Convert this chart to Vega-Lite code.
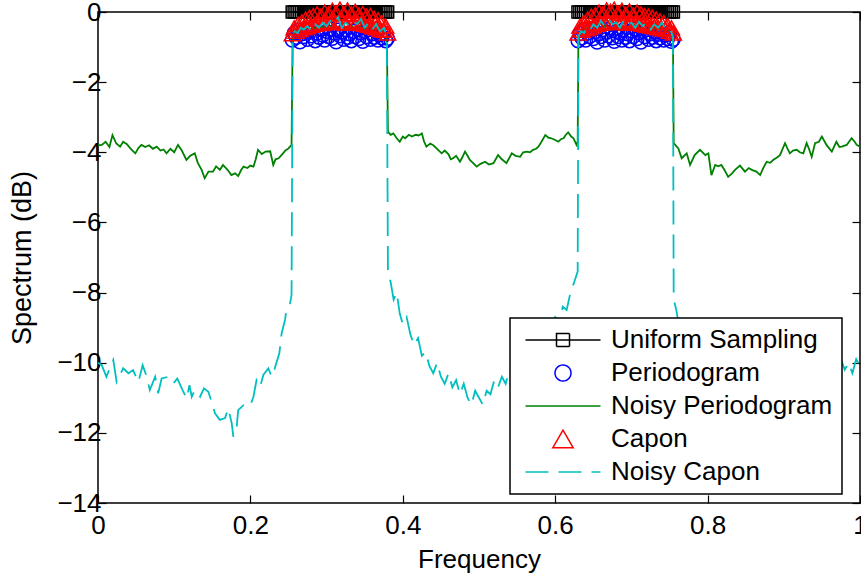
{
  "$schema": "https://vega.github.io/schema/vega-lite/v6.json",
  "width": 762,
  "height": 491,
  "autosize": {"type": "none"},
  "padding": {"left": 98, "top": 12, "right": 1, "bottom": 76},
  "background": "white",
  "config": {
    "view": {"stroke": "black", "strokeWidth": 1.5},
    "font": "Liberation Sans",
    "axis": {
      "labelFont": "Liberation Sans", "titleFont": "Liberation Sans",
      "labelFontSize": 26, "titleFontSize": 26, "titleFontWeight": "normal",
      "labelColor": "black", "titleColor": "black",
      "domain": false, "grid": false,
      "tickColor": "black", "tickSize": -8, "tickWidth": 1.2,
      "labelFlush": false, "labelOverlap": false, "labelBound": false
    }
  },
  "datasets": {
    "uniform": [
      {"f":0.255,"v":0,"b":1},{"f":0.2575,"v":0,"b":1},{"f":0.26,"v":0,"b":1},{"f":0.2625,"v":0,"b":1},{"f":0.265,"v":0,"b":1},{"f":0.2675,"v":0,"b":1},{"f":0.27,"v":0,"b":1},{"f":0.2725,"v":0,"b":1},{"f":0.275,"v":0,"b":1},{"f":0.2775,"v":0,"b":1},{"f":0.28,"v":0,"b":1},{"f":0.2825,"v":0,"b":1},{"f":0.285,"v":0,"b":1},{"f":0.2875,"v":0,"b":1},{"f":0.29,"v":0,"b":1},{"f":0.2925,"v":0,"b":1},{"f":0.295,"v":0,"b":1},{"f":0.2975,"v":0,"b":1},{"f":0.3,"v":0,"b":1},{"f":0.3025,"v":0,"b":1},{"f":0.305,"v":0,"b":1},{"f":0.3075,"v":0,"b":1},{"f":0.31,"v":0,"b":1},{"f":0.3125,"v":0,"b":1},{"f":0.315,"v":0,"b":1},{"f":0.3175,"v":0,"b":1},{"f":0.32,"v":0,"b":1},{"f":0.3225,"v":0,"b":1},{"f":0.325,"v":0,"b":1},{"f":0.3275,"v":0,"b":1},{"f":0.33,"v":0,"b":1},{"f":0.3325,"v":0,"b":1},{"f":0.335,"v":0,"b":1},{"f":0.3375,"v":0,"b":1},{"f":0.34,"v":0,"b":1},{"f":0.3425,"v":0,"b":1},{"f":0.345,"v":0,"b":1},{"f":0.3475,"v":0,"b":1},{"f":0.35,"v":0,"b":1},{"f":0.3525,"v":0,"b":1},{"f":0.355,"v":0,"b":1},{"f":0.3575,"v":0,"b":1},{"f":0.36,"v":0,"b":1},{"f":0.3625,"v":0,"b":1},{"f":0.365,"v":0,"b":1},{"f":0.3675,"v":0,"b":1},{"f":0.37,"v":0,"b":1},{"f":0.3725,"v":0,"b":1},{"f":0.375,"v":0,"b":1},{"f":0.3775,"v":0,"b":1},{"f":0.38,"v":0,"b":1},
      {"f":0.63,"v":0,"b":2},{"f":0.6325,"v":0,"b":2},{"f":0.635,"v":0,"b":2},{"f":0.6375,"v":0,"b":2},{"f":0.64,"v":0,"b":2},{"f":0.6425,"v":0,"b":2},{"f":0.645,"v":0,"b":2},{"f":0.6475,"v":0,"b":2},{"f":0.65,"v":0,"b":2},{"f":0.6525,"v":0,"b":2},{"f":0.655,"v":0,"b":2},{"f":0.6575,"v":0,"b":2},{"f":0.66,"v":0,"b":2},{"f":0.6625,"v":0,"b":2},{"f":0.665,"v":0,"b":2},{"f":0.6675,"v":0,"b":2},{"f":0.67,"v":0,"b":2},{"f":0.6725,"v":0,"b":2},{"f":0.675,"v":0,"b":2},{"f":0.6775,"v":0,"b":2},{"f":0.68,"v":0,"b":2},{"f":0.6825,"v":0,"b":2},{"f":0.685,"v":0,"b":2},{"f":0.6875,"v":0,"b":2},{"f":0.69,"v":0,"b":2},{"f":0.6925,"v":0,"b":2},{"f":0.695,"v":0,"b":2},{"f":0.6975,"v":0,"b":2},{"f":0.7,"v":0,"b":2},{"f":0.7025,"v":0,"b":2},{"f":0.705,"v":0,"b":2},{"f":0.7075,"v":0,"b":2},{"f":0.71,"v":0,"b":2},{"f":0.7125,"v":0,"b":2},{"f":0.715,"v":0,"b":2},{"f":0.7175,"v":0,"b":2},{"f":0.72,"v":0,"b":2},{"f":0.7225,"v":0,"b":2},{"f":0.725,"v":0,"b":2},{"f":0.7275,"v":0,"b":2},{"f":0.73,"v":0,"b":2},{"f":0.7325,"v":0,"b":2},{"f":0.735,"v":0,"b":2},{"f":0.7375,"v":0,"b":2},{"f":0.74,"v":0,"b":2},{"f":0.7425,"v":0,"b":2},{"f":0.745,"v":0,"b":2},{"f":0.7475,"v":0,"b":2},{"f":0.75,"v":0,"b":2},{"f":0.7525,"v":0,"b":2},{"f":0.755,"v":0,"b":2}
    ],
    "periodogram": [
      {"f":0.255,"v":-0.8},{"f":0.2575,"v":-0.6},{"f":0.26,"v":-0.72},{"f":0.2625,"v":-0.52},{"f":0.265,"v":-0.85},{"f":0.2675,"v":-0.62},{"f":0.27,"v":-0.7},{"f":0.2725,"v":-0.5},{"f":0.275,"v":-0.78},{"f":0.2775,"v":-0.58},{"f":0.28,"v":-0.68},{"f":0.2825,"v":-0.45},{"f":0.285,"v":-0.82},{"f":0.2875,"v":-0.6},{"f":0.29,"v":-0.72},{"f":0.2925,"v":-0.5},{"f":0.295,"v":-0.66},{"f":0.2975,"v":-0.8},{"f":0.3,"v":-0.55},{"f":0.3025,"v":-0.7},{"f":0.305,"v":-0.48},{"f":0.3075,"v":-0.75},{"f":0.31,"v":-0.6},{"f":0.3125,"v":-0.85},{"f":0.315,"v":-0.52},{"f":0.3175,"v":-0.68},{"f":0.32,"v":-0.58},{"f":0.3225,"v":-0.78},{"f":0.325,"v":-0.5},{"f":0.3275,"v":-0.72},{"f":0.33,"v":-0.62},{"f":0.3325,"v":-0.82},{"f":0.335,"v":-0.55},{"f":0.3375,"v":-0.7},{"f":0.34,"v":-0.48},{"f":0.3425,"v":-0.76},{"f":0.345,"v":-0.6},{"f":0.3475,"v":-0.84},{"f":0.35,"v":-0.55},{"f":0.3525,"v":-0.7},{"f":0.355,"v":-0.5},{"f":0.3575,"v":-0.78},{"f":0.36,"v":-0.62},{"f":0.3625,"v":-0.72},{"f":0.365,"v":-0.56},{"f":0.3675,"v":-0.8},{"f":0.37,"v":-0.65},{"f":0.3725,"v":-0.74},{"f":0.375,"v":-0.6},{"f":0.3775,"v":-0.82},{"f":0.38,"v":-0.75},
      {"f":0.63,"v":-0.82},{"f":0.6325,"v":-0.62},{"f":0.635,"v":-0.74},{"f":0.6375,"v":-0.5},{"f":0.64,"v":-0.8},{"f":0.6425,"v":-0.6},{"f":0.645,"v":-0.7},{"f":0.6475,"v":-0.48},{"f":0.65,"v":-0.76},{"f":0.6525,"v":-0.56},{"f":0.655,"v":-0.86},{"f":0.6575,"v":-0.62},{"f":0.66,"v":-0.7},{"f":0.6625,"v":-0.5},{"f":0.665,"v":-0.8},{"f":0.6675,"v":-0.58},{"f":0.67,"v":-0.68},{"f":0.6725,"v":-0.46},{"f":0.675,"v":-0.74},{"f":0.6775,"v":-0.84},{"f":0.68,"v":-0.55},{"f":0.6825,"v":-0.7},{"f":0.685,"v":-0.6},{"f":0.6875,"v":-0.8},{"f":0.69,"v":-0.5},{"f":0.6925,"v":-0.72},{"f":0.695,"v":-0.62},{"f":0.6975,"v":-0.82},{"f":0.7,"v":-0.54},{"f":0.7025,"v":-0.7},{"f":0.705,"v":-0.48},{"f":0.7075,"v":-0.76},{"f":0.71,"v":-0.6},{"f":0.7125,"v":-0.86},{"f":0.715,"v":-0.55},{"f":0.7175,"v":-0.7},{"f":0.72,"v":-0.5},{"f":0.7225,"v":-0.78},{"f":0.725,"v":-0.62},{"f":0.7275,"v":-0.72},{"f":0.73,"v":-0.56},{"f":0.7325,"v":-0.82},{"f":0.735,"v":-0.64},{"f":0.7375,"v":-0.74},{"f":0.74,"v":-0.58},{"f":0.7425,"v":-0.8},{"f":0.745,"v":-0.66},{"f":0.7475,"v":-0.76},{"f":0.75,"v":-0.62},{"f":0.7525,"v":-0.84},{"f":0.755,"v":-0.78}
    ],
    "capon": [
      {"f":0.255,"v":-0.62},{"f":0.2575,"v":-0.45},{"f":0.26,"v":-0.55},{"f":0.2625,"v":-0.35},{"f":0.265,"v":-0.5},{"f":0.2675,"v":-0.28},{"f":0.27,"v":-0.45},{"f":0.2725,"v":-0.2},{"f":0.275,"v":-0.42},{"f":0.2775,"v":-0.15},{"f":0.28,"v":-0.38},{"f":0.2825,"v":-0.1},{"f":0.285,"v":-0.35},{"f":0.2875,"v":-0.05},{"f":0.29,"v":-0.3},{"f":0.2925,"v":-0.12},{"f":0.295,"v":-0.33},{"f":0.2975,"v":0.0},{"f":0.3,"v":-0.28},{"f":0.3025,"v":-0.06},{"f":0.305,"v":-0.3},{"f":0.3075,"v":0.05},{"f":0.31,"v":-0.25},{"f":0.3125,"v":-0.02},{"f":0.315,"v":-0.3},{"f":0.3175,"v":0.08},{"f":0.32,"v":-0.22},{"f":0.3225,"v":-0.04},{"f":0.325,"v":-0.32},{"f":0.3275,"v":0.06},{"f":0.33,"v":-0.25},{"f":0.3325,"v":-0.05},{"f":0.335,"v":-0.3},{"f":0.3375,"v":0.02},{"f":0.34,"v":-0.28},{"f":0.3425,"v":-0.08},{"f":0.345,"v":-0.33},{"f":0.3475,"v":-0.04},{"f":0.35,"v":-0.35},{"f":0.3525,"v":-0.12},{"f":0.355,"v":-0.38},{"f":0.3575,"v":-0.1},{"f":0.36,"v":-0.42},{"f":0.3625,"v":-0.18},{"f":0.365,"v":-0.45},{"f":0.3675,"v":-0.22},{"f":0.37,"v":-0.5},{"f":0.3725,"v":-0.3},{"f":0.375,"v":-0.52},{"f":0.3775,"v":-0.4},{"f":0.38,"v":-0.6},
      {"f":0.63,"v":-0.6},{"f":0.6325,"v":-0.4},{"f":0.635,"v":-0.52},{"f":0.6375,"v":-0.3},{"f":0.64,"v":-0.48},{"f":0.6425,"v":-0.2},{"f":0.645,"v":-0.45},{"f":0.6475,"v":-0.12},{"f":0.65,"v":-0.4},{"f":0.6525,"v":-0.08},{"f":0.655,"v":-0.35},{"f":0.6575,"v":0.0},{"f":0.66,"v":-0.32},{"f":0.6625,"v":-0.05},{"f":0.665,"v":-0.3},{"f":0.6675,"v":0.06},{"f":0.67,"v":-0.28},{"f":0.6725,"v":0.02},{"f":0.675,"v":-0.3},{"f":0.6775,"v":0.08},{"f":0.68,"v":-0.25},{"f":0.6825,"v":-0.03},{"f":0.685,"v":-0.3},{"f":0.6875,"v":0.05},{"f":0.69,"v":-0.22},{"f":0.6925,"v":-0.06},{"f":0.695,"v":-0.32},{"f":0.6975,"v":0.03},{"f":0.7,"v":-0.28},{"f":0.7025,"v":-0.08},{"f":0.705,"v":-0.3},{"f":0.7075,"v":0.0},{"f":0.71,"v":-0.33},{"f":0.7125,"v":-0.05},{"f":0.715,"v":-0.35},{"f":0.7175,"v":-0.1},{"f":0.72,"v":-0.38},{"f":0.7225,"v":-0.12},{"f":0.725,"v":-0.4},{"f":0.7275,"v":-0.15},{"f":0.73,"v":-0.42},{"f":0.7325,"v":-0.2},{"f":0.735,"v":-0.45},{"f":0.7375,"v":-0.25},{"f":0.74,"v":-0.48},{"f":0.7425,"v":-0.3},{"f":0.745,"v":-0.5},{"f":0.7475,"v":-0.38},{"f":0.75,"v":-0.55},{"f":0.7525,"v":-0.45},{"f":0.755,"v":-0.6}
    ],
    "noisyPer": [
      {"f":0.0,"v":-3.8},{"f":0.005,"v":-3.79},{"f":0.01,"v":-3.7},{"f":0.015,"v":-3.85},{"f":0.019,"v":-3.51},{"f":0.024,"v":-3.75},{"f":0.029,"v":-3.84},{"f":0.033,"v":-3.7},{"f":0.038,"v":-3.77},{"f":0.043,"v":-3.9},{"f":0.049,"v":-4.03},{"f":0.053,"v":-3.88},{"f":0.057,"v":-3.79},{"f":0.062,"v":-3.85},{"f":0.067,"v":-3.8},{"f":0.072,"v":-3.9},{"f":0.077,"v":-3.84},{"f":0.082,"v":-3.95},{"f":0.086,"v":-3.92},{"f":0.09,"v":-4.03},{"f":0.095,"v":-3.9},{"f":0.1,"v":-4.0},{"f":0.105,"v":-3.79},{"f":0.11,"v":-3.95},{"f":0.116,"v":-4.22},{"f":0.121,"v":-4.1},{"f":0.127,"v":-4.03},{"f":0.131,"v":-4.3},{"f":0.136,"v":-4.5},{"f":0.14,"v":-4.74},{"f":0.145,"v":-4.55},{"f":0.151,"v":-4.55},{"f":0.155,"v":-4.4},{"f":0.16,"v":-4.5},{"f":0.164,"v":-4.36},{"f":0.17,"v":-4.5},{"f":0.175,"v":-4.65},{"f":0.18,"v":-4.6},{"f":0.184,"v":-4.68},{"f":0.188,"v":-4.5},{"f":0.191,"v":-4.41},{"f":0.196,"v":-4.45},{"f":0.2,"v":-4.38},{"f":0.204,"v":-4.41},{"f":0.207,"v":-4.2},{"f":0.21,"v":-3.93},{"f":0.215,"v":-4.05},{"f":0.22,"v":-3.98},{"f":0.226,"v":-3.97},{"f":0.23,"v":-4.36},{"f":0.233,"v":-4.2},{"f":0.237,"v":-4.17},{"f":0.242,"v":-4.05},{"f":0.246,"v":-3.95},{"f":0.25,"v":-3.89},{"f":0.254,"v":-3.79},
      {"f":0.2555,"v":-0.65},{"f":0.26,"v":-0.5},{"f":0.266,"v":-0.55},{"f":0.272,"v":-0.4},{"f":0.278,"v":-0.5},{"f":0.284,"v":-0.45},{"f":0.29,"v":-0.55},{"f":0.296,"v":-0.4},{"f":0.302,"v":-0.5},{"f":0.308,"v":-0.35},{"f":0.314,"v":-0.45},{"f":0.32,"v":-0.4},{"f":0.326,"v":-0.5},{"f":0.332,"v":-0.38},{"f":0.338,"v":-0.48},{"f":0.344,"v":-0.4},{"f":0.35,"v":-0.52},{"f":0.356,"v":-0.42},{"f":0.362,"v":-0.5},{"f":0.368,"v":-0.45},{"f":0.374,"v":-0.55},{"f":0.379,"v":-0.62},
      {"f":0.3805,"v":-3.41},{"f":0.384,"v":-3.5},{"f":0.3876,"v":-3.46},{"f":0.392,"v":-3.6},{"f":0.396,"v":-3.7},{"f":0.4,"v":-3.55},{"f":0.403,"v":-3.6},{"f":0.408,"v":-3.5},{"f":0.412,"v":-3.55},{"f":0.417,"v":-3.5},{"f":0.421,"v":-3.52},{"f":0.425,"v":-3.46},{"f":0.428,"v":-3.7},{"f":0.431,"v":-3.84},{"f":0.436,"v":-3.75},{"f":0.44,"v":-3.8},{"f":0.445,"v":-3.9},{"f":0.451,"v":-4.03},{"f":0.455,"v":-3.95},{"f":0.46,"v":-4.06},{"f":0.463,"v":-4.2},{"f":0.466,"v":-4.17},{"f":0.47,"v":-4.1},{"f":0.475,"v":-4.27},{"f":0.478,"v":-4.15},{"f":0.4816,"v":-3.98},{"f":0.485,"v":-4.1},{"f":0.488,"v":-4.22},{"f":0.492,"v":-4.3},{"f":0.497,"v":-4.41},{"f":0.502,"v":-4.33},{"f":0.508,"v":-4.27},{"f":0.513,"v":-4.35},{"f":0.519,"v":-4.31},{"f":0.525,"v":-4.08},{"f":0.53,"v":-4.2},{"f":0.536,"v":-4.31},{"f":0.543,"v":-4.03},{"f":0.548,"v":-4.1},{"f":0.554,"v":-4.13},{"f":0.558,"v":-4.0},{"f":0.563,"v":-3.98},{"f":0.567,"v":-4.0},{"f":0.571,"v":-3.93},{"f":0.575,"v":-3.9},{"f":0.578,"v":-3.84},{"f":0.582,"v":-3.7},{"f":0.587,"v":-3.51},{"f":0.591,"v":-3.58},{"f":0.595,"v":-3.6},{"f":0.6,"v":-3.65},{"f":0.604,"v":-3.7},{"f":0.608,"v":-3.62},{"f":0.611,"v":-3.6},{"f":0.614,"v":-3.5},{"f":0.617,"v":-3.43},{"f":0.621,"v":-3.55},{"f":0.624,"v":-3.6},{"f":0.628,"v":-3.79},{"f":0.6295,"v":-3.7},
      {"f":0.6305,"v":-0.62},{"f":0.636,"v":-0.5},{"f":0.642,"v":-0.45},{"f":0.648,"v":-0.55},{"f":0.654,"v":-0.4},{"f":0.66,"v":-0.48},{"f":0.666,"v":-0.38},{"f":0.672,"v":-0.5},{"f":0.678,"v":-0.42},{"f":0.684,"v":-0.52},{"f":0.69,"v":-0.4},{"f":0.696,"v":-0.48},{"f":0.702,"v":-0.36},{"f":0.708,"v":-0.5},{"f":0.714,"v":-0.44},{"f":0.72,"v":-0.55},{"f":0.726,"v":-0.42},{"f":0.732,"v":-0.5},{"f":0.738,"v":-0.45},{"f":0.744,"v":-0.55},{"f":0.75,"v":-0.5},{"f":0.7545,"v":-0.62},
      {"f":0.7555,"v":-3.74},{"f":0.7616,"v":-3.89},{"f":0.766,"v":-4.17},{"f":0.7726,"v":-4.03},{"f":0.777,"v":-4.36},{"f":0.783,"v":-4.08},{"f":0.79,"v":-3.93},{"f":0.797,"v":-4.08},{"f":0.801,"v":-4.03},{"f":0.805,"v":-4.65},{"f":0.81,"v":-4.36},{"f":0.814,"v":-4.4},{"f":0.818,"v":-4.36},{"f":0.822,"v":-4.5},{"f":0.827,"v":-4.7},{"f":0.832,"v":-4.6},{"f":0.836,"v":-4.5},{"f":0.8425,"v":-4.38},{"f":0.849,"v":-4.55},{"f":0.854,"v":-4.45},{"f":0.858,"v":-4.5},{"f":0.864,"v":-4.55},{"f":0.869,"v":-4.65},{"f":0.873,"v":-4.45},{"f":0.8775,"v":-4.27},{"f":0.882,"v":-4.3},{"f":0.886,"v":-4.22},{"f":0.891,"v":-4.15},{"f":0.895,"v":-4.08},{"f":0.9016,"v":-3.74},{"f":0.905,"v":-3.9},{"f":0.908,"v":-4.03},{"f":0.912,"v":-3.95},{"f":0.917,"v":-3.93},{"f":0.921,"v":-4.0},{"f":0.9256,"v":-4.03},{"f":0.93,"v":-3.74},{"f":0.933,"v":-3.9},{"f":0.9366,"v":-4.13},{"f":0.941,"v":-3.74},{"f":0.946,"v":-3.7},{"f":0.95,"v":-3.55},{"f":0.956,"v":-3.79},{"f":0.963,"v":-3.98},{"f":0.969,"v":-3.7},{"f":0.973,"v":-3.85},{"f":0.976,"v":-3.84},{"f":0.9825,"v":-3.79},{"f":0.989,"v":-3.6},{"f":0.993,"v":-3.7},{"f":0.9956,"v":-3.79},{"f":1.0,"v":-3.84}
    ],
    "noisyCapon": [
      {"f":0.0,"v":-10.0},{"f":0.005,"v":-10.07},{"f":0.011,"v":-10.4},{"f":0.02,"v":-9.92},{"f":0.0245,"v":-10.55},{"f":0.033,"v":-10.16},{"f":0.04,"v":-10.3},{"f":0.046,"v":-10.21},{"f":0.053,"v":-10.55},{"f":0.0586,"v":-10.07},{"f":0.064,"v":-10.4},{"f":0.068,"v":-10.78},{"f":0.075,"v":-10.4},{"f":0.079,"v":-10.87},{"f":0.0835,"v":-10.45},{"f":0.0923,"v":-10.4},{"f":0.099,"v":-10.59},{"f":0.104,"v":-10.45},{"f":0.111,"v":-10.78},{"f":0.1164,"v":-11.02},{"f":0.12,"v":-10.64},{"f":0.123,"v":-10.97},{"f":0.127,"v":-10.78},{"f":0.134,"v":-10.97},{"f":0.139,"v":-10.73},{"f":0.1448,"v":-10.83},{"f":0.149,"v":-11.11},{"f":0.1535,"v":-11.44},{"f":0.16,"v":-11.63},{"f":0.1667,"v":-11.58},{"f":0.171,"v":-11.3},{"f":0.1755,"v":-11.73},{"f":0.1776,"v":-12.11},{"f":0.182,"v":-11.83},{"f":0.184,"v":-11.35},{"f":0.191,"v":-11.21},{"f":0.1995,"v":-11.24},{"f":0.204,"v":-10.97},{"f":0.208,"v":-10.5},{"f":0.2126,"v":-10.69},{"f":0.217,"v":-10.35},{"f":0.2235,"v":-10.16},{"f":0.228,"v":-10.4},{"f":0.232,"v":-10.16},{"f":0.238,"v":-9.73},{"f":0.241,"v":-9.16},{"f":0.2454,"v":-8.78},{"f":0.2476,"v":-8.45},{"f":0.252,"v":-8.31},{"f":0.254,"v":-8.07},
      {"f":0.2555,"v":-0.7},{"f":0.258,"v":-0.55},{"f":0.262,"v":-0.6},{"f":0.266,"v":-0.45},{"f":0.27,"v":-0.5},{"f":0.275,"v":-0.4},{"f":0.28,"v":-0.55},{"f":0.285,"v":-0.35},{"f":0.29,"v":-0.45},{"f":0.295,"v":-0.3},{"f":0.3,"v":-0.4},{"f":0.305,"v":-0.25},{"f":0.31,"v":-0.35},{"f":0.315,"v":-0.15},{"f":0.32,"v":-0.45},{"f":0.325,"v":-0.3},{"f":0.33,"v":-0.4},{"f":0.335,"v":-0.25},{"f":0.34,"v":-0.35},{"f":0.345,"v":-0.2},{"f":0.35,"v":-0.45},{"f":0.355,"v":-0.3},{"f":0.36,"v":-0.5},{"f":0.365,"v":-0.35},{"f":0.37,"v":-0.55},{"f":0.375,"v":-0.45},{"f":0.379,"v":-0.7},
      {"f":0.3805,"v":-7.4},{"f":0.384,"v":-7.7},{"f":0.388,"v":-8.2},{"f":0.392,"v":-8.0},{"f":0.396,"v":-8.6},{"f":0.4,"v":-8.9},{"f":0.405,"v":-8.7},{"f":0.41,"v":-9.2},{"f":0.415,"v":-9.5},{"f":0.42,"v":-9.3},{"f":0.425,"v":-9.8},{"f":0.43,"v":-9.7},{"f":0.435,"v":-10.1},{"f":0.44,"v":-10.3},{"f":0.445,"v":-10.0},{"f":0.45,"v":-10.4},{"f":0.455,"v":-10.6},{"f":0.46,"v":-10.3},{"f":0.465,"v":-10.7},{"f":0.47,"v":-10.5},{"f":0.475,"v":-10.9},{"f":0.48,"v":-10.6},{"f":0.485,"v":-11.0},{"f":0.49,"v":-11.2},{"f":0.495,"v":-10.8},{"f":0.5,"v":-11.0},{"f":0.505,"v":-11.2},{"f":0.51,"v":-10.8},{"f":0.515,"v":-10.9},{"f":0.52,"v":-10.5},{"f":0.525,"v":-10.7},{"f":0.53,"v":-10.4},{"f":0.535,"v":-10.6},{"f":0.54,"v":-10.2},{"f":0.545,"v":-10.4},{"f":0.55,"v":-10.0},{"f":0.555,"v":-10.2},{"f":0.56,"v":-9.8},{"f":0.565,"v":-9.9},{"f":0.57,"v":-9.5},{"f":0.575,"v":-9.6},{"f":0.58,"v":-9.2},{"f":0.585,"v":-9.3},{"f":0.59,"v":-8.9},{"f":0.595,"v":-9.0},{"f":0.6,"v":-8.7},{"f":0.605,"v":-8.8},{"f":0.61,"v":-8.4},{"f":0.615,"v":-8.5},{"f":0.62,"v":-8.0},{"f":0.625,"v":-7.7},{"f":0.6295,"v":-7.4},
      {"f":0.6305,"v":-0.7},{"f":0.634,"v":-0.55},{"f":0.638,"v":-0.6},{"f":0.642,"v":-0.4},{"f":0.646,"v":-0.5},{"f":0.65,"v":-0.35},{"f":0.655,"v":-0.45},{"f":0.66,"v":-0.25},{"f":0.665,"v":-0.4},{"f":0.67,"v":-0.2},{"f":0.675,"v":-0.35},{"f":0.68,"v":-0.3},{"f":0.685,"v":-0.45},{"f":0.69,"v":-0.25},{"f":0.695,"v":-0.4},{"f":0.7,"v":-0.3},{"f":0.705,"v":-0.45},{"f":0.71,"v":-0.28},{"f":0.715,"v":-0.4},{"f":0.72,"v":-0.3},{"f":0.725,"v":-0.5},{"f":0.73,"v":-0.35},{"f":0.735,"v":-0.45},{"f":0.74,"v":-0.3},{"f":0.745,"v":-0.5},{"f":0.75,"v":-0.45},{"f":0.7545,"v":-0.7},
      {"f":0.7555,"v":-8.2},{"f":0.759,"v":-8.5},{"f":0.762,"v":-8.9},{"f":0.766,"v":-9.3},{"f":0.77,"v":-9.8},{"f":0.775,"v":-10.2},{"f":0.78,"v":-10.0},{"f":0.785,"v":-10.4},{"f":0.79,"v":-10.2},{"f":0.795,"v":-10.6},{"f":0.8,"v":-11.0},{"f":0.805,"v":-10.9},{"f":0.81,"v":-11.2},{"f":0.815,"v":-11.25},{"f":0.82,"v":-11.9},{"f":0.823,"v":-12.1},{"f":0.827,"v":-11.5},{"f":0.832,"v":-11.7},{"f":0.837,"v":-11.4},{"f":0.84,"v":-11.6},{"f":0.845,"v":-11.2},{"f":0.85,"v":-11.0},{"f":0.855,"v":-10.8},{"f":0.86,"v":-10.9},{"f":0.865,"v":-10.7},{"f":0.87,"v":-11.0},{"f":0.875,"v":-10.6},{"f":0.88,"v":-10.8},{"f":0.885,"v":-10.4},{"f":0.89,"v":-10.6},{"f":0.895,"v":-10.3},{"f":0.9,"v":-10.5},{"f":0.905,"v":-10.2},{"f":0.91,"v":-10.7},{"f":0.915,"v":-10.4},{"f":0.92,"v":-10.2},{"f":0.925,"v":-10.5},{"f":0.93,"v":-10.3},{"f":0.935,"v":-10.1},{"f":0.94,"v":-10.4},{"f":0.945,"v":-10.2},{"f":0.95,"v":-10.5},{"f":0.955,"v":-10.0},{"f":0.96,"v":-10.3},{"f":0.965,"v":-10.1},{"f":0.97,"v":-10.4},{"f":0.975,"v":-9.9},{"f":0.98,"v":-10.2},{"f":0.985,"v":-10.0},{"f":0.99,"v":-10.3},{"f":0.995,"v":-9.9},{"f":1.0,"v":-10.1}
    ]
  },
  "layer": [
    {
      "data": {"name": "uniform"},
      "mark": {"type": "line", "strokeWidth": 1.5},
      "encoding": {
        "x": {"field": "f", "type": "quantitative", "scale": {"domain": [0, 1], "nice": false, "zero": false},
              "axis": {"values": [0, 0.2, 0.4, 0.6, 0.8, 1], "format": "~g", "title": "Frequency", "labelPadding": 17, "titleY": 64, "titleBaseline": "alphabetic"}},
        "y": {"field": "v", "type": "quantitative", "scale": {"domain": [-14, 0], "nice": false, "zero": false},
              "axis": {"values": [-14, -12, -10, -8, -6, -4, -2, 0], "labelExpr": "datum.value < 0 ? '\u2212' + format(-datum.value, '~g') : format(datum.value, '~g')", "title": "Spectrum (dB)", "titleFontSize": 27, "labelPadding": 5, "titleX": -68, "titleBaseline": "alphabetic", "titleAngle": -90}},
        "detail": {"field": "b"},
        "color": {
          "datum": "Uniform Sampling",
          "scale": {"domain": ["Uniform Sampling", "Periodogram", "Noisy Periodogram", "Capon", "Noisy Capon"], "range": ["#000000", "#0000ff", "#008000", "#ff0000", "#00bfbf"]},
          "legend": {
            "orient": "none", "legendX": 412, "legendY": 306, "title": null,
            "fillColor": "white", "strokeColor": "black",
            "padding": 9, "labelFontSize": 26, "labelFont": "Liberation Sans", "labelColor": "black", "labelLimit": 400,
            "symbolSize": 100, "symbolOffset": 31, "labelOffset": 35, "rowPadding": 7, "symbolStrokeWidth": 1.5,
            "encode": {
              "legend": {"update": {"strokeWidth": {"value": 1.5}}},
              "symbols": {"update": {
                "shape": {"signal": "datum.value === 'Uniform Sampling' ? 'M-7.5,0H7.5M-1.3,-1.3H1.3V1.3H-1.3Z' : datum.value === 'Periodogram' ? 'circle' : datum.value === 'Capon' ? 'triangle-up' : 'M-7.5,0H7.5'"},
                "size": {"signal": "datum.value === 'Periodogram' ? 256 : datum.value === 'Capon' ? 420 : 100"},
                "strokeDash": {"signal": "datum.value === 'Noisy Capon' ? [23, 10] : [1, 0]"},
                "fill": {"value": "transparent"},
                "stroke": {"signal": "scale('color', datum.value)"},
                "strokeWidth": {"value": 1.5},
                "opacity": {"value": 1}
              }}
            }
          }
        }
      }
    },
    {
      "data": {"name": "uniform"},
      "mark": {"type": "point", "shape": "square", "filled": false, "size": 150, "strokeWidth": 1.5, "opacity": 1},
      "encoding": {
        "x": {"field": "f", "type": "quantitative", "axis": {"orient": "top", "values": [0, 0.2, 0.4, 0.6, 0.8, 1], "labels": false, "title": null}},
        "y": {"field": "v", "type": "quantitative", "axis": {"orient": "right", "values": [-14, -12, -10, -8, -6, -4, -2, 0], "labels": false, "title": null}},
        "color": {"datum": "Uniform Sampling"}
      }
    },
    {
      "data": {"name": "periodogram"},
      "mark": {"type": "point", "shape": "circle", "filled": false, "size": 190, "strokeWidth": 1.5, "opacity": 1},
      "encoding": {
        "x": {"field": "f", "type": "quantitative", "axis": null},
        "y": {"field": "v", "type": "quantitative", "axis": null},
        "color": {"datum": "Periodogram"}
      }
    },
    {
      "data": {"name": "noisyPer"},
      "mark": {"type": "line", "strokeWidth": 1.8},
      "encoding": {
        "x": {"field": "f", "type": "quantitative", "axis": null},
        "y": {"field": "v", "type": "quantitative", "axis": null},
        "color": {"datum": "Noisy Periodogram"}
      }
    },
    {
      "data": {"name": "capon"},
      "mark": {"type": "point", "shape": "triangle-up", "filled": false, "size": 260, "strokeWidth": 1.5, "opacity": 1},
      "encoding": {
        "x": {"field": "f", "type": "quantitative", "axis": null},
        "y": {"field": "v", "type": "quantitative", "axis": null},
        "color": {"datum": "Capon"}
      }
    },
    {
      "data": {"name": "noisyCapon"},
      "mark": {"type": "line", "strokeWidth": 1.8, "strokeDash": [24, 10]},
      "encoding": {
        "x": {"field": "f", "type": "quantitative", "axis": null},
        "y": {"field": "v", "type": "quantitative", "axis": null},
        "color": {"datum": "Noisy Capon"}
      }
    }
  ],
  "resolve": {"axis": {"x": "independent", "y": "independent"}}
}
